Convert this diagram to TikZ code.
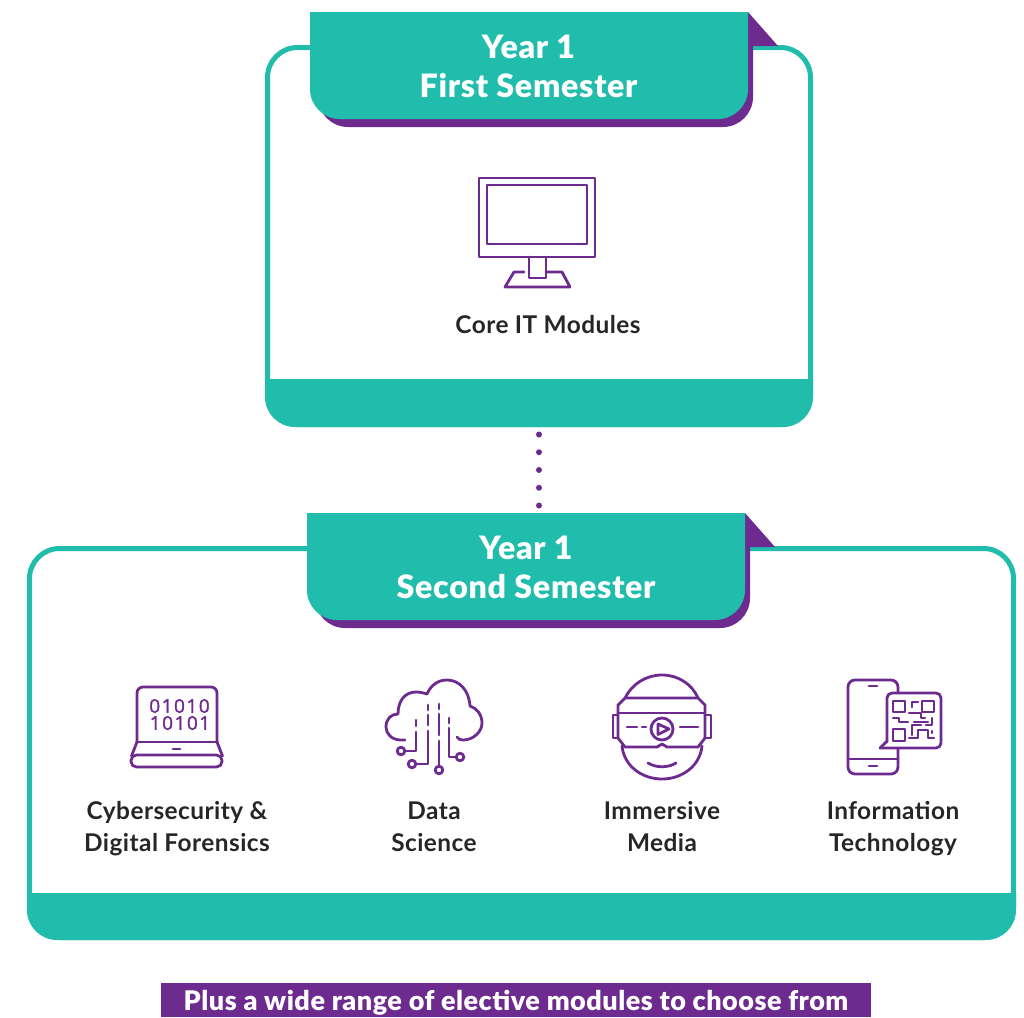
\documentclass[tikz,border=0pt]{standalone}
\usepackage{fontspec}
\setmainfont{Lato}
\newfontfamily\labelfont{Lato Bold}[LetterSpace=1.9]
\newfontfamily\titlefont{Lato Black}[LetterSpace=2.2]
\newfontfamily\footfont{Lato Black}[LetterSpace=1.8]
\newfontfamily\digitfont{Open Sans}[LetterSpace=8,FakeBold=1.5]
\definecolor{tealc}{HTML}{21BDAC}
\definecolor{purp}{HTML}{6E2B8F}
\definecolor{ink}{HTML}{262626}
\tikzset{
  frame/.style={draw=tealc,line width=5pt,rounded corners=30pt,outer sep=0pt,inner sep=0pt,fill=white},
  band/.style={fill=tealc,draw=none},
  tabface/.style={fill=tealc,draw=none},
  tabshade/.style={fill=purp,draw=none},
  title/.style={text=white,font=\titlefont\fontsize{32.2}{39}\selectfont,align=center,inner sep=0pt},
  lab/.style={text=ink,font=\labelfont\fontsize{24.4}{32}\selectfont,align=center,inner sep=0pt},
  ico/.style={draw=purp,line width=2.8pt,line cap=round,line join=round},
  qr/.style={ico,line width=2.3pt},
  dots/.style={draw=purp,line width=6pt,line cap=round,dash pattern=on 0pt off 17.75pt},
  digits/.style={text=purp,font=\digitfont\fontsize{19}{19}\selectfont,inner sep=0pt}
}
\begin{document}
\begin{tikzpicture}[x=1pt,y=-1pt]
\useasboundingbox (0,0) rectangle (1024,1017);
% boxes
\node[frame,minimum width=543pt,minimum height=377pt] (box1) at (539,236) {};
\fill[band] (265,379) -- (813,379) {[rounded corners=30pt] -- (813,427) -- (265,427)} -- cycle;
\node[frame,minimum width=984pt,minimum height=389pt] (box2) at (521.5,743) {};
\fill[band] (27,893) -- (1016,893) {[rounded corners=30pt] -- (1016,940) -- (27,940)} -- cycle;
% tab 1
\fill[tabshade] (748,12) -- (778,46) -- (753,46) {[rounded corners=30pt] -- (753,127) -- (318,127)} -- (318,100) -- cycle;
\fill[tabface] (310,12) -- (748,12) {[rounded corners=30pt] -- (748,119) -- (310,119)} -- cycle;
\node[title] (t1) at (528.5,66.5) {Year 1\\First Semester};
% tab 2
\fill[tabshade] (745,513) -- (775,547) -- (750,547) {[rounded corners=30pt] -- (750,628) -- (315,628)} -- (315,601) -- cycle;
\fill[tabface] (307,513) -- (745,513) {[rounded corners=30pt] -- (745,620) -- (307,620)} -- cycle;
\node[title] (t2) at (526,567.5) {Year 1\\Second Semester};
% dotted connector
\coordinate (tab2top) at (539,513);
\draw[dots,shorten <=10pt,shorten >=6pt] (box1.south) -- (tab2top);
% monitor
\draw[ico] (479,178) rectangle (595,257);
\draw[ico] (487,185) rectangle (587,244);
\draw[ico] (529,257) -- (529,278) -- (546,278) -- (546,257);
\draw[ico] (524,272) -- (514,272) -- (505,287) -- (570,287) -- (562,272) -- (546,272);
\node[lab] (core) at (548,325) {Core IT Modules};
% laptop
\draw[ico,rounded corners=6pt] (137,742) -- (137,687) -- (217,687) -- (217,742);
\draw[ico] (137,742) -- (217,742);
\draw[ico] (137,742) -- (131.5,756);
\draw[ico] (217,742) -- (222.5,756);
\draw[ico,rounded corners=5.5pt] (131,755) rectangle (222,767);
\draw[ico] (173,749) -- (180,749);
\node[digits] (d1) at (179.5,706) {01010};
\node[digits] (d2) at (180,723) {10101};
\node[lab] (cyber) at (177,829) {Cybersecurity \&\\Digital Forensics};
% cloud
\draw[ico] (405,740) -- (401,740) .. controls (392,740) and (386,734) .. (386,727)
  .. controls (386,719) and (391,714) .. (398,714)
  .. controls (398,702) and (404,692) .. (416,692)
  .. controls (420,692) and (424,693) .. (427,694)
  .. controls (431,685) and (438,680) .. (447,680)
  .. controls (459,680) and (469,690) .. (470,706)
  .. controls (477,708) and (482,715) .. (482,723)
  .. controls (482,732) and (473,740) .. (463,740)
  .. controls (460,740) and (458,739) .. (457,737);
\draw[ico] (416,720) -- (416,726);
\draw[ico] (416,732) -- (416,751) -- (405,751);
\draw[ico] (401,751) circle (3.8pt);
\draw[ico] (428,705) -- (428,710);
\draw[ico] (428,715) -- (428,725);
\draw[ico] (428,731) -- (428,764) -- (416,764);
\draw[ico] (412,764) circle (3.8pt);
\draw[ico] (439,704) -- (439,709);
\draw[ico] (439,714) -- (439,735);
\draw[ico] (439,741) -- (439,766);
\draw[ico] (439,770) circle (3.8pt);
\draw[ico] (449,718) -- (449,723);
\draw[ico] (449,728) -- (449,757) -- (456,757);
\draw[ico] (460,757) circle (3.8pt);
\node[lab] (data) at (434,827) {Data\\Science};
% VR head
\draw[ico] (625,698) .. controls (632,684) and (646,675) .. (662,675) .. controls (678,675) and (692,684) .. (698,698);
\draw[ico] (622,746) .. controls (624,766) and (642,779) .. (662,779) .. controls (682,779) and (700,766) .. (702,746);
\draw[ico] (625,698) -- (698,698) -- (705,705) -- (705,738) -- (698,747) -- (667,747) -- (662,744) -- (657,747) -- (625,747) -- (618,738) -- (618,705) -- cycle;
\draw[ico] (618,713) -- (705,713);
\draw[ico] (618,715) -- (613,715) -- (613,738) -- (618,738);
\draw[ico] (705,715) -- (711,715) -- (711,738) -- (705,738);
\draw[ico] (662,729) circle (11pt);
\draw[ico] (658,724) -- (669,729) -- (658,734.5) -- cycle;
\draw[ico] (627,727) -- (637,727) (642,727) -- (646,727) (680,727) -- (698,727);
\draw[ico] (648,763) .. controls (656,768) and (668,768) .. (676,763);
\node[lab] (media) at (662,827) {Immersive\\Media};
% phone
\draw[ico,rounded corners=7pt] (898,693) -- (898,680) -- (848,680) -- (848,774) -- (898,774) -- (898,748);
\draw[ico] (848,759) -- (898,759);
\draw[ico] (869,686) -- (877,686);
\draw[ico] (869,766) -- (877,766);
\draw[ico,rounded corners=5pt] (887,742) -- (887,693) -- (941,693) -- (941,748) -- (880,748);
\draw[ico] (880,748) -- (887,741);
\draw[ico] (893,701) rectangle (905,712);
\draw[ico] (922,701) rectangle (934,712);
\draw[ico] (893,729) rectangle (905,741);
\draw[qr] (912,707) -- (912,702) -- (918,702);
\draw[qr] (909,713) -- (921,713) -- (921,718) -- (925,718);
\draw[qr] (893,718) -- (899,718) -- (899,722) -- (908,722);
\draw[qr] (914,722) -- (928,722);
\draw[qr] (932,718) -- (932,725) -- (926,725);
\draw[qr] (912,735) -- (912,725) -- (921,725);
\draw[qr] (909,738) -- (918,738) -- (918,730) -- (928,730) -- (928,738) -- (934,738);
\draw[qr] (932,731) -- (932,733);
\node[lab] (info) at (893,829) {Information\\Technology};
% footer
\node[fill=purp,minimum width=710pt,minimum height=34pt,inner sep=0pt,outer sep=0pt] (foot) at (516,1000) {};
\node[text=white,inner sep=0pt,font=\footfont\fontsize{27}{27}\selectfont] (footlab) at (516,1002.5) {Plus a wide range of elective modules to choose from};
\end{tikzpicture}
\end{document}
